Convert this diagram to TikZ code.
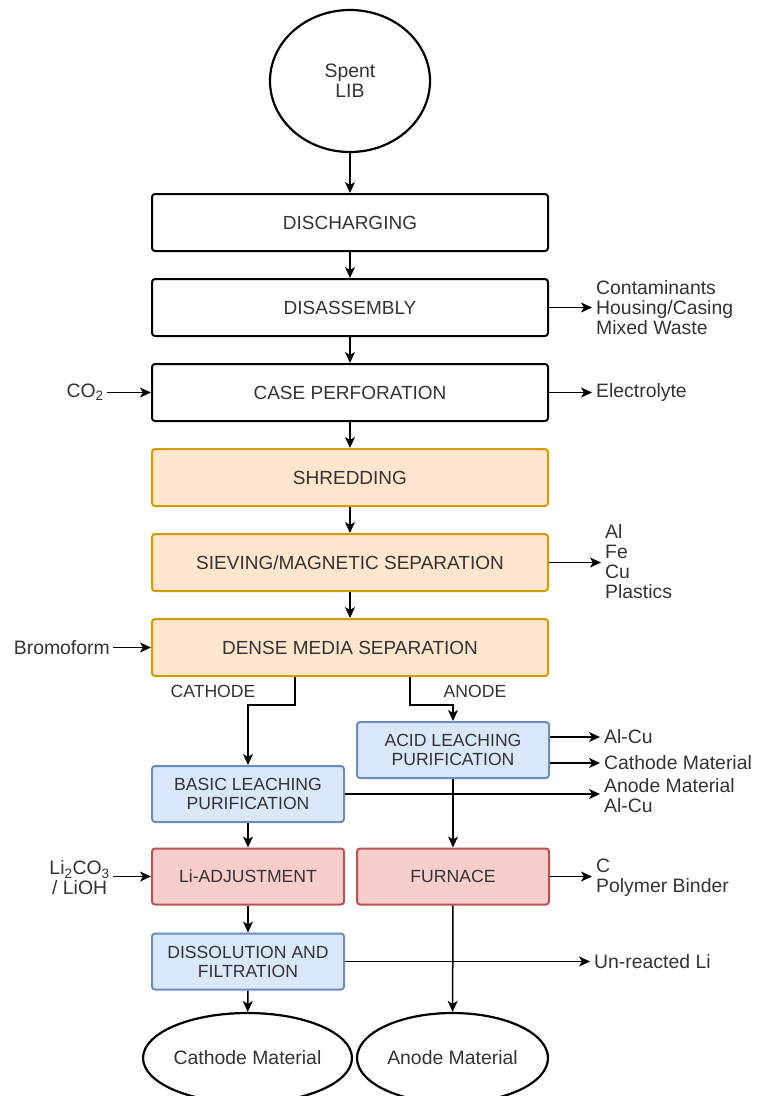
\documentclass[tikz,border=0pt]{standalone}
\usepackage{fontspec}
\setmainfont{Liberation Sans}
\usetikzlibrary{arrows.meta,shapes.geometric,calc}

\definecolor{txt}{HTML}{333333}
\definecolor{orfill}{HTML}{FFE6CC}
\definecolor{orline}{HTML}{D79B00}
\definecolor{blfill}{HTML}{DAE8FC}
\definecolor{blline}{HTML}{6C8EBF}
\definecolor{rdfill}{HTML}{F8CECC}
\definecolor{rdline}{HTML}{B85450}

\newcommand{\bigfs}{\fontsize{19}{20}\selectfont}
\newcommand{\smallfs}{\fontsize{17.6}{19}\selectfont}
\newcommand{\labfs}{\fontsize{19.4}{20}\selectfont}

\begin{document}
\begin{tikzpicture}[x=1pt,y=-1pt,
  widebox/.style={draw=black, line width=2pt, rounded corners=3pt, fill=white,
    minimum width=396pt, minimum height=57pt, inner sep=0pt, font=\bigfs, text=txt, align=center},
  orangebox/.style={widebox, draw=orline, fill=orfill},
  narrowbox/.style={draw=black, line width=2pt, rounded corners=3pt,
    minimum width=192pt, minimum height=56pt, inner sep=0pt, font=\smallfs, text=txt, align=center},
  bluebox/.style={narrowbox, draw=blline, fill=blfill},
  redbox/.style={narrowbox, draw=rdline, fill=rdfill},
  terminal/.style={ellipse, draw=black, line width=2.2pt, fill=white, inner sep=0pt,
    font=\labfs, text=txt, align=center},
  outlabel/.style={anchor=west, align=left, font=\labfs, text=txt, inner xsep=4pt, inner ysep=0pt},
  inlabel/.style={anchor=east, align=center, font=\labfs, text=txt, inner xsep=3pt, inner ysep=0pt},
  branchlabel/.style={font=\smallfs, text=txt, inner sep=0pt},
  arr/.style={-{Stealth[length=11pt,width=10pt,inset=3pt]}, line width=1.5pt, draw=black},
  wire/.style={line width=1.5pt, draw=black}]

\path[use as bounding box] (0,0) rectangle (757,1096);
\clip (0,0) rectangle (757,1096);

% main trunk
\node[terminal, minimum width=160pt, minimum height=142pt] (spent) at (350,81) {Spent\\LIB};
\node[widebox]   (dis)   at (350,222.5) {DISCHARGING};
\node[widebox]   (disa)  at (350,307.5) {DISASSEMBLY};
\node[widebox]   (case)  at (350,392.5) {CASE PERFORATION};
\node[orangebox] (shred) at (350,477.5) {SHREDDING};
\node[orangebox] (sieve) at (350,562.5) {SIEVING/MAGNETIC SEPARATION};
\node[orangebox] (dense) at (350,647.5) {DENSE MEDIA SEPARATION};

% cathode and anode branches
\node[bluebox] (acid)  at (453,750)   {ACID LEACHING\\PURIFICATION};
\node[bluebox] (basic) at (248,794)   {BASIC LEACHING\\PURIFICATION};
\node[redbox]  (liadj) at (248,876.5) {Li-ADJUSTMENT};
\node[redbox]  (furn)  at (453,876.5) {FURNACE};
\node[bluebox] (diss)  at (248,961.5) {DISSOLUTION AND\\FILTRATION};
\node[terminal, minimum width=191pt, minimum height=90pt] (cathM) at (247.5,1058) {Cathode Material};
\node[terminal, minimum width=191pt, minimum height=90pt] (anodM) at (452.5,1058) {Anode Material};

\node[branchlabel] (catlab) at (213,691) {CATHODE};
\node[branchlabel] (anlab)  at (475,691) {ANODE};

% side inputs
\node[inlabel] (co2)   at (107,392.5) {CO\textsubscript{2}};
\node[inlabel] (bromo) at (113,647.5) {Bromoform};
\node[inlabel] (lico)  at (113,878)   {Li\textsubscript{2}CO\textsubscript{3}\\/ LiOH};

% side outputs
\node[outlabel] (waste) at (592,307.5) {Contaminants\\Housing/Casing\\Mixed Waste};
\node[outlabel] (elec)  at (592,392.5) {Electrolyte};
\node[outlabel] (metal) at (601,562)   {Al\\Fe\\Cu\\Plastics};
\node[outlabel] (alcuA) at (600,737)   {Al-Cu};
\node[outlabel] (cmat)  at (600,763)   {Cathode Material};
\node[outlabel] (amat)  at (600,796)   {Anode Material\\Al-Cu};
\node[outlabel] (cpoly) at (592,878)   {C\\Polymer Binder};
\node[outlabel] (unli)  at (590,962)   {Un-reacted Li};

% trunk connectors
\draw[arr] (spent) -- (dis);
\draw[arr] (dis) -- (disa);
\draw[arr] (disa) -- (case);
\draw[arr] (case) -- (shred);
\draw[arr] (shred) -- (sieve);
\draw[arr] (sieve) -- (dense);

\draw[arr] ($(dense.south)+(-55,0)$) -- ++(0,28) -| (basic.north);
\draw[arr] ($(dense.south)+(60,0)$) -- ++(0,28) -| (acid.north);

\draw[arr] (basic) -- (liadj);
\draw[arr] (liadj) -- (diss);
\draw[arr] (diss) -- (cathM);
\draw[arr] (acid) -- (furn);
\draw[arr] (furn) -- (anodM);

% inputs
\draw[arr] (co2.east) -- (case.west);
\draw[arr] (bromo.east) -- (dense.west);
\draw[arr] (lico.east |- liadj.west) -- (liadj.west);

% outputs
\draw[arr] (disa.east) -- (disa.east -| waste.west);
\draw[arr] (case.east) -- (elec.west);
\draw[arr] (sieve.east) -- (sieve.east -| metal.west);
\draw[arr] (acid.east |- alcuA.west) -- (alcuA.west);
\draw[arr] (acid.east |- cmat.west) -- (cmat.west);
\draw[arr] (basic.east) -- (basic.east -| amat.west);
\draw[arr] (furn.east) -- (furn.east -| cpoly.west);
\draw[arr] (diss.east) -- (diss.east -| unli.west);

\end{tikzpicture}
\end{document}
